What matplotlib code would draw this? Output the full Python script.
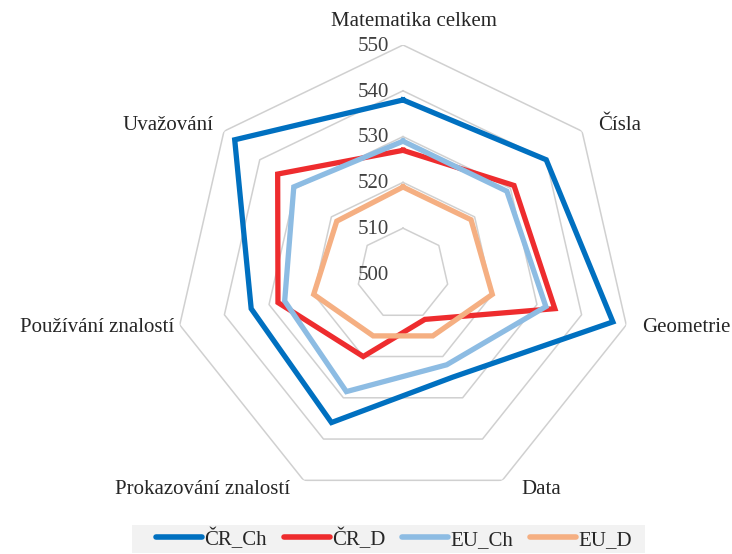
import numpy as np
import matplotlib
matplotlib.use("Agg")
import matplotlib.pyplot as plt
from matplotlib.patches import Rectangle

plt.rcParams['font.family'] = ['Liberation Serif', 'DejaVu Serif']

categories = ["Matematika celkem", "Čísla", "Geometrie", "Data",
              "Prokazování znalostí", "Používání znalostí", "Uvažování"]
series_names = ["ČR_Ch", "ČR_D", "EU_Ch", "EU_D"]
cr_ch = [538, 540, 547, 525, 536, 534, 547]
cr_d = [527, 531, 534, 511, 520, 528, 535]
eu_ch = [529, 529, 532, 522, 528.5, 526.5, 530.5]
eu_d = [519, 519, 520, 515, 515, 520, 518.5]
tick_values = [500, 510, 520, 530, 540, 550]
colors = ["#0070C0", "#EE2C2E", "#8DBCE3", "#F5AF82"]

W, H = 732, 554
fig = plt.figure(figsize=(W / 100, H / 100), dpi=100)
cx, cy, R = 403, 274, 229
ax = fig.add_axes([(cx - R) / W, 1 - (cy + R) / H, 2 * R / W, 2 * R / H],
                  projection='polar')
ax.set_theta_offset(np.pi / 2)
ax.set_theta_direction(-1)
ax.set_ylim(tick_values[0], tick_values[-1])
ax.set_xticks([])
ax.set_yticks([])
ax.grid(False)
ax.spines['polar'].set_visible(False)
ax.patch.set_alpha(0)

n = len(categories)
theta = np.arange(n) * 2 * np.pi / n
theta_c = np.append(theta, theta[0])

for v in tick_values[1:]:
    ax.plot(theta_c, [v] * (n + 1), color="#D0D0D0", lw=1.1, zorder=1)

for name, vals, col in zip(series_names, [cr_ch, cr_d, eu_ch, eu_d], colors):
    ax.plot(theta_c, list(vals) + [vals[0]], color=col, lw=3.8, label=name,
            zorder=2, solid_joinstyle='miter')

for v in tick_values:
    ax.annotate(str(v), xy=(0, v), xytext=(-10, -1), textcoords='offset points',
                ha='right', va='center', fontsize=15, color="#404040", zorder=3)

label_pos = [(414, 22, 'center'), (620, 125, 'center'), (686, 327, 'center'),
             (541, 490, 'center'), (203, 490, 'center'), (97, 327, 'center'),
             (168, 125, 'center')]
for lab, (x, y, ha) in zip(categories, label_pos):
    fig.text(x / W, 1 - y / H, lab, ha=ha, va='center', fontsize=15,
             color="#262626")

# legend background box
fig.patches.append(Rectangle((132 / W, 1 - 553 / H), 513 / W, 28 / H,
                             transform=fig.transFigure, facecolor="#F2F2F2",
                             edgecolor="none", zorder=0))

leg = fig.legend(loc='center', bbox_to_anchor=(394 / W, 1 - 539 / H), ncol=4,
                 fontsize=15, frameon=False, handlelength=2.2,
                 handletextpad=0.12, columnspacing=0.8, borderpad=0.2,
                 borderaxespad=0)
for t in leg.get_texts():
    t.set_color("#262626")
for h in leg.get_lines():
    h.set_solid_capstyle('round')
    h.set_linewidth(4.0)

fig.savefig("out.png", dpi=100)
